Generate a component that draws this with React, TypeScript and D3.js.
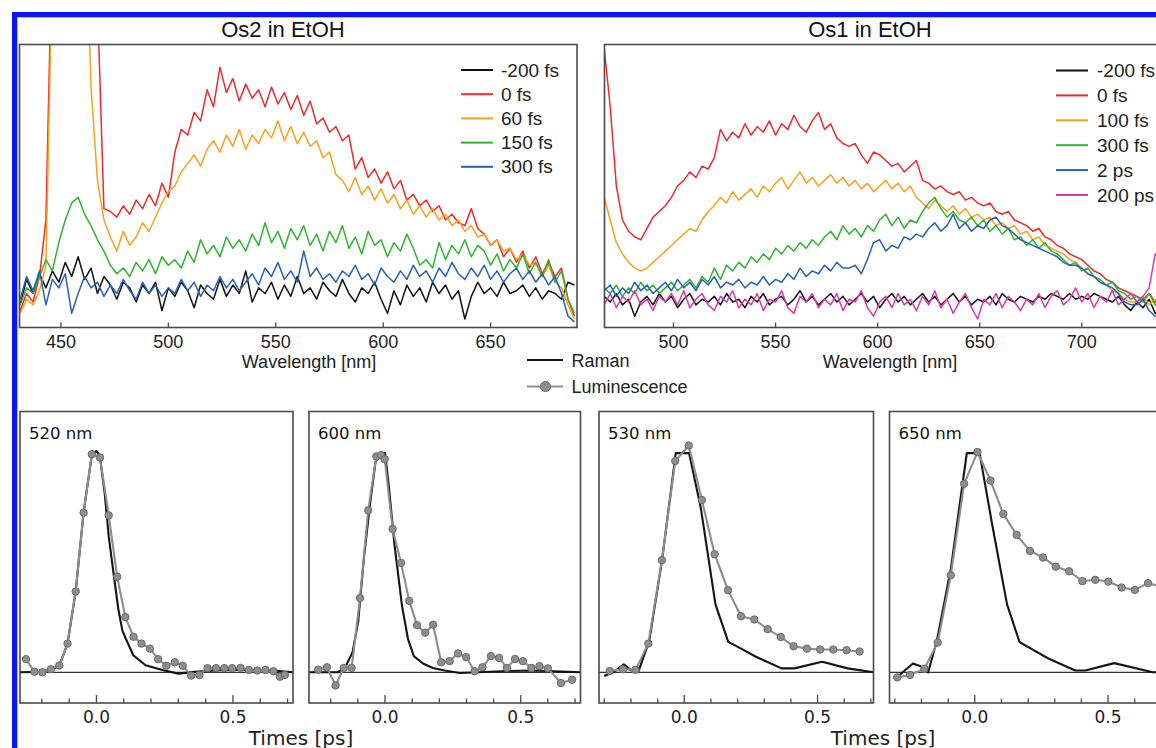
import React from "react";
import * as d3 from "d3";

// ---------- Top spectra (wavelength grid: start + 3 nm steps) ----------
const STEP = 3;
const os2Start = 431;
const os1Start = 466;

const os2Labels = ["-200 fs", "0 fs", "60 fs", "150 fs", "300 fs"];
const os2Black = [
  8, 17, 12, 19, 14, 20, 16, 23, 18, 25,
  17, 21, 12, 18, 15, 10, 16, 14, 9, 15,
  12, 16, 6, 14, 11, 16, 13, 7, 15, 12,
  10, 17, 11, 15, 12, 20, 9, 14, 12, 16,
  10, 15, 11, 18, 12, 14, 10, 16, 13, 11,
  17, 12, 9, 14, 12, 16, 10, 5, 13, 8,
  15, 11, 14, 9, 16, 12, 15, 10, 13, 3,
  11, 16, 12, 14, 11, 16, 12, 13, 15, 11,
  14, 10, 13, 12, 10, 16, 15,
];
const os2Red = [
  6, 12, 9, 18, 38, 140, 160, 160, 160, 160,
  160, 160, 115, 42, 41, 39, 43, 40, 45, 42,
  47, 43, 51, 46, 62, 70, 68, 76, 73, 84,
  78, 92, 83, 88, 80, 86, 81, 84, 78, 85,
  79, 83, 77, 82, 75, 80, 72, 74, 69, 71,
  66, 68, 56, 60, 53, 56, 51, 55, 49, 52,
  45, 47, 43, 45, 41, 43, 38, 40, 37, 36,
  42, 35, 33, 29, 31, 25, 28, 23, 27, 21,
  25, 19, 23, 18, 21, 10, 4,
];
const os2Orange = [
  5, 10, 8, 13, 22, 130, 160, 160, 160, 160,
  160, 85, 52, 38, 32, 27, 34, 29, 32, 37,
  34, 39, 44, 48, 50, 55, 58, 61, 57, 63,
  66, 62, 68, 64, 70, 63, 68, 65, 70, 67,
  73, 66, 71, 65, 69, 64, 66, 60, 62, 54,
  52, 48, 53, 47, 50, 45, 49, 44, 47, 42,
  45, 40, 43, 39, 42, 38, 40, 36, 38, 34,
  36, 32, 33, 29, 31, 27, 28, 24, 26, 22,
  23, 18, 22, 16, 14, 8, 3,
];
const os2Green = [
  8, 14, 12, 18, 24, 20, 30, 38, 44, 46,
  40, 36, 31, 27, 22, 19, 21, 18, 23, 20,
  24, 19, 25, 22, 24, 21, 27, 23, 31, 26,
  29, 25, 32, 28, 31, 27, 33, 29, 37, 30,
  34, 28, 35, 31, 36, 29, 33, 27, 34, 30,
  36, 28, 32, 26, 34, 29, 31, 25, 30, 27,
  33, 28, 22, 24, 21, 30, 24, 29, 26, 31,
  25, 29, 27, 22, 26, 20, 24, 21, 26, 19,
  23, 18, 24, 16, 20, 10, 5,
];
const os2Blue = [
  10, 18, 13, 20, 8, 17, 14, 19, 5, 12,
  18, 14, 16, 11, 15, 12, 17, 13, 10, 16,
  12, 15, 11, 14, 12, 17, 13, 16, 11, 15,
  13, 18, 14, 17, 13, 16, 19, 15, 21, 18,
  23, 17, 20, 16, 27, 18, 21, 17, 19, 16,
  20, 18, 22, 17, 19, 15, 21, 18, 16, 20,
  17, 22, 18, 20, 16, 21, 18, 23, 19, 17,
  21, 18, 22, 17, 20, 16, 19, 21, 17, 20,
  16, 19, 15, 18, 12, 4, 2,
];

const os1Labels = ["-200 fs", "0 fs", "100 fs", "300 fs", "2 ps", "200 ps"];
const os1Black = [
  11, 9, 12, 8, 10, 4, 9, 11, 8, 12,
  9, 11, 7, 10, 12, 8, 10, 9, 11, 8,
  12, 9, 10, 7, 11, 9, 12, 8, 10, 11,
  8, 10, 13, 9, 11, 8, 10, 12, 9, 11,
  8, 10, 12, 9, 11, 7, 10, 12, 9, 11,
  8, 10, 12, 9, 11, 8, 10, 12, 9, 11,
  8, 10, 9, 11, 8, 12, 10, 9, 11, 10,
  9, 11, 10, 12, 11, 10, 12, 10, 11, 10,
  12, 11, 10, 9, 11, 8, 6,
  9, 7, 10, 5, 4,
];
const os1Red = [
  99, 78, 50, 38, 34, 32, 31, 35, 39, 41,
  43, 46, 50, 52, 55, 53, 57, 56, 60, 70,
  66, 69, 67, 72, 68, 71, 69, 73, 68, 72,
  70, 75, 71, 69, 73, 76, 70, 72, 67, 65,
  64, 65, 61, 58, 62, 61, 59, 57, 58, 55,
  57, 59, 52, 51, 49, 50, 48, 47, 48, 45,
  46, 44, 43, 44, 41, 40, 41, 38, 37, 36,
  34, 35, 32, 31, 29, 28, 26, 25, 24, 22,
  20, 19, 17, 16, 14, 13, 12,
  11, 10, 12, 9, 8,
];
const os1Orange = [
  46, 38, 30, 26, 23, 21, 20, 21, 23, 25,
  27, 29, 31, 33, 35, 34, 38, 41, 43, 46,
  44, 48, 45, 47, 49, 46, 50, 48, 51, 53,
  49, 52, 55, 51, 53, 50, 52, 54, 51, 53,
  50, 52, 49, 51, 48, 50, 52, 49, 51, 48,
  50, 46, 44, 42, 45, 43, 41, 43, 40, 42,
  39, 40, 38, 39, 36, 37, 35, 36, 33, 34,
  31, 32, 29, 28, 27, 26, 24, 23, 21, 19,
  18, 16, 15, 13, 12, 10, 9,
  9, 11, 8, 10, 7,
];
const os1Green = [
  14, 12, 15, 11, 14, 12, 16, 13, 15, 12,
  14, 16, 13, 15, 17, 14, 18, 16, 21, 17,
  22, 20, 23, 21, 25, 23, 26, 24, 28, 26,
  29, 27, 30, 28, 31, 29, 32, 34, 31, 36,
  33, 35, 32, 36, 34, 38, 40, 36, 39, 35,
  38, 37, 41, 44, 46, 42, 39, 41, 38, 37,
  39, 36, 38, 34, 36, 33, 35, 31, 32, 29,
  31, 28, 30, 27, 26, 24, 22, 23, 20, 21,
  18, 17, 15, 16, 13, 12, 10,
  11, 9, 12, 8, 6,
];
const os1Blue = [
  13, 15, 11, 14, 12, 16, 13, 15, 12, 14,
  16, 13, 17, 14, 16, 13, 17, 15, 18, 14,
  16, 15, 17, 14, 16, 15, 18, 15, 17, 16,
  19, 17, 21, 18, 20, 19, 22, 20, 23, 21,
  21, 22, 19, 24, 30, 31, 27, 29, 28, 32,
  31, 33, 32, 35, 37, 34, 36, 40, 35, 37,
  34, 36, 35, 38, 39, 36, 35, 33, 31, 30,
  29, 28, 27, 26, 25, 23, 22, 22, 21, 19,
  18, 16, 15, 14, 12, 9, 8,
  8, 10, 6, 4, 3,
];
const os1Magenta = [
  8, 12, 7, 11, 9, 13, 8, 10, 6, 11,
  9, 12, 8, 13, 7, 10, 12, 8, 6, 11,
  9, 13, 7, 10, 8, 12, 6, 10, 9, 13,
  7, 5, 11, 9, 12, 7, 10, 8, 12, 6,
  10, 9, 13, 7, 4, 9, 11, 7, 12, 8,
  10, 6, 11, 8, 13, 7, 10, 5, 9, 12,
  7, 3, 10, 8, 12, 7, 11, 9, 6, 10,
  8, 12, 7, 11, 13, 8, 10, 14, 9, 12,
  7, 11, 9, 13, 8, 10, 12,
  9, 11, 14, 26, 24,
];

const os2Ticks = [450, 500, 550, 600, 650];
const os1Ticks = [500, 550, 600, 650, 700];

// ---------- Bottom kinetics ----------
const panelLabels = ["520 nm", "600 nm", "530 nm", "650 nm"];

const lum520T = [-0.258, -0.227, -0.198, -0.167, -0.136, -0.106, -0.076, -0.047, -0.017, 0.013, 0.045, 0.076, 0.106, 0.136, 0.165, 0.196, 0.226, 0.256, 0.287, 0.316, 0.347, 0.377, 0.407, 0.438, 0.468, 0.497, 0.528, 0.558, 0.589, 0.619, 0.648, 0.672, 0.69];
const lum520V = [0.06, 0.003, 0.0, 0.014, 0.031, 0.131, 0.369, 0.728, 0.995, 0.98, 0.716, 0.436, 0.252, 0.162, 0.131, 0.108, 0.06, 0.03, 0.046, 0.03, -0.015, -0.012, 0.019, 0.019, 0.019, 0.019, 0.02, 0.011, 0.008, 0.011, 0.005, -0.02, -0.012];
const ram520T = [-0.28, -0.2, -0.15, -0.13, -0.106, -0.076, -0.047, -0.017, 0.0, 0.012, 0.03, 0.045, 0.066, 0.08, 0.095, 0.11, 0.135, 0.18, 0.245, 0.3, 0.36, 0.45, 0.55, 0.65, 0.72];
const ram520V = [0.0, 0.002, 0.02, 0.05, 0.13, 0.37, 0.73, 0.99, 1.01, 0.99, 0.82, 0.62, 0.42, 0.29, 0.19, 0.147, 0.078, 0.032, 0.009, -0.006, 0.002, 0.01, 0.012, 0.008, 0.0];

const lum600T = [-0.246, -0.214, -0.182, -0.152, -0.123, -0.092, -0.062, -0.032, -0.015, -0.001, 0.028, 0.059, 0.089, 0.118, 0.148, 0.177, 0.207, 0.238, 0.269, 0.299, 0.33, 0.359, 0.39, 0.42, 0.449, 0.479, 0.508, 0.539, 0.569, 0.6, 0.648, 0.689];
const lum600V = [0.012, 0.023, -0.06, 0.02, 0.02, 0.339, 0.739, 0.985, 0.991, 0.972, 0.654, 0.499, 0.326, 0.215, 0.181, 0.217, 0.046, 0.051, 0.086, 0.069, 0.005, 0.023, 0.074, 0.066, 0.02, 0.061, 0.051, 0.02, 0.028, 0.018, -0.049, -0.034];
const ram600T = [-0.28, -0.176, -0.148, -0.12, -0.099, -0.077, -0.056, -0.035, -0.014, 0.0, 0.014, 0.035, 0.063, 0.085, 0.106, 0.14, 0.176, 0.22, 0.275, 0.345, 0.45, 0.55, 0.65, 0.72];
const ram600V = [0.0, 0.0, 0.02, 0.09, 0.23, 0.53, 0.76, 0.96, 1.0, 1.0, 0.85, 0.58, 0.3, 0.15, 0.074, 0.04, 0.02, 0.008, -0.003, 0.0, 0.006, 0.008, 0.003, 0.0];

const lum530T = [-0.28, -0.23, -0.183, -0.135, -0.084, -0.034, 0.017, 0.066, 0.114, 0.164, 0.213, 0.263, 0.313, 0.362, 0.41, 0.46, 0.51, 0.559, 0.609, 0.658];
const lum530V = [0.006, 0.014, 0.011, 0.131, 0.512, 0.964, 1.035, 0.786, 0.539, 0.375, 0.256, 0.241, 0.197, 0.161, 0.119, 0.108, 0.104, 0.104, 0.101, 0.095];
const ram530T = [-0.3, -0.26, -0.227, -0.2, -0.172, -0.131, -0.083, -0.032, 0.018, 0.062, 0.117, 0.165, 0.213, 0.269, 0.365, 0.413, 0.517, 0.613, 0.71];
const ram530V = [-0.017, 0.005, 0.036, 0.01, 0.003, 0.146, 0.515, 1.0, 1.0, 0.75, 0.31, 0.139, 0.108, 0.071, 0.018, 0.018, 0.048, 0.018, 0.0];

const lum650T = [-0.291, -0.243, -0.189, -0.139, -0.09, -0.04, 0.01, 0.059, 0.107, 0.157, 0.207, 0.256, 0.304, 0.354, 0.404, 0.452, 0.501, 0.551, 0.601, 0.65, 0.7];
const lum650V = [-0.023, -0.012, 0.016, 0.136, 0.443, 0.86, 1.005, 0.875, 0.723, 0.627, 0.554, 0.524, 0.482, 0.461, 0.416, 0.422, 0.414, 0.387, 0.376, 0.407, 0.39];
const ram650T = [-0.29, -0.232, -0.186, -0.175, -0.142, -0.09, -0.03, 0.018, 0.066, 0.121, 0.168, 0.276, 0.377, 0.415, 0.523, 0.668, 0.72];
const ram650V = [-0.02, 0.04, 0.02, 0.0, 0.145, 0.47, 1.0, 1.0, 0.67, 0.31, 0.138, 0.063, 0.008, 0.008, 0.042, 0.0, 0.0];

const timeMinorTicks = [-0.3, -0.2, -0.1, 0, 0.1, 0.2, 0.3, 0.4, 0.5, 0.6, 0.7];
const timeMajorTicks = [0, 0.5];

// ---------- styles ----------
const SANS = "'Liberation Sans', Arial, sans-serif";
const VERD = "'DejaVu Sans', Verdana, sans-serif";
const C = {
  black: "#111111",
  red: "#ee2a2e",
  orange: "#f6a21a",
  green: "#2db52f",
  blue: "#2761b6",
  magenta: "#d63bae",
};
const os2Colors = [C.black, C.red, C.orange, C.green, C.blue];
const os1Colors = [C.black, C.red, C.orange, C.green, C.blue, C.magenta];
const FRAME = "#4a4a4a";

type SpecProps = {
  id: string;
  x0: number; x1: number; y0: number; y1: number;
  domain: [number, number];
  start: number;
  series: number[][];
  colors: string[];
  labels: string[];
  ticks: number[];
  title: string; titleX: number;
  axisX: number;
  legLineX: number; legTextX: number; legY: number; legStep: number;
};

function Spectrum(p: SpecProps) {
  const x = d3.scaleLinear().domain(p.domain).range([p.x0, p.x1]);
  const y = d3.scaleLinear().domain([0, 100]).range([p.y1, p.y0]);
  const line = d3
    .line<number>()
    .x((_, i) => x(p.start + i * STEP))
    .y((d) => y(d));
  return (
    <g>
      <defs>
        <clipPath id={p.id}>
          <rect x={p.x0} y={p.y0} width={p.x1 - p.x0} height={p.y1 - p.y0} />
        </clipPath>
      </defs>
      <g clipPath={`url(#${p.id})`}>
        {p.series.map((s, k) => (
          <path key={k} d={line(s) || ""} fill="none" stroke={p.colors[k]} strokeWidth={1.5} strokeLinejoin="round" />
        ))}
      </g>
      <rect x={p.x0} y={p.y0} width={p.x1 - p.x0} height={p.y1 - p.y0} fill="none" stroke={FRAME} strokeWidth={1.6} />
      {p.ticks.map((t) => (
        <g key={t}>
          <line x1={x(t)} x2={x(t)} y1={p.y1} y2={p.y1 - 5} stroke={FRAME} strokeWidth={1.3} />
          <text x={x(t)} y={347.5} textAnchor="middle" fontFamily={SANS} fontSize={18} fill="#222">{t}</text>
        </g>
      ))}
      <text x={p.axisX} y={367.5} textAnchor="middle" fontFamily={SANS} fontSize={18} fill="#222">Wavelength [nm]</text>
      <text x={p.titleX} y={37} textAnchor="middle" fontFamily={SANS} fontSize={22} fill="#111">{p.title}</text>
      {p.labels.map((l, k) => (
        <g key={l}>
          <line x1={p.legLineX} x2={p.legLineX + 32} y1={p.legY + k * p.legStep} y2={p.legY + k * p.legStep} stroke={p.colors[k]} strokeWidth={2} />
          <text x={p.legTextX} y={p.legY + k * p.legStep + 6.5} fontFamily={SANS} fontSize={19} fill="#222">{l}</text>
        </g>
      ))}
    </g>
  );
}

type KinProps = {
  x0: number; x1: number;
  domain: [number, number];
  label: string;
  lumT: number[]; lumV: number[];
  ramT: number[]; ramV: number[];
};

const KY0 = 411.5;
const KY1 = 703;

function Kinetics(p: KinProps) {
  const x = d3.scaleLinear().domain(p.domain).range([p.x0, p.x1]);
  const y = d3.scaleLinear().domain([-0.14, 1.19]).range([KY1, KY0]);
  const lumPts = p.lumT.map((t, i) => [t, p.lumV[i]] as [number, number]);
  const ramPts = p.ramT.map((t, i) => [t, p.ramV[i]] as [number, number]);
  const line = d3
    .line<[number, number]>()
    .x((d) => x(d[0]))
    .y((d) => y(d[1]));
  return (
    <g>
      <line x1={p.x0} x2={p.x1} y1={y(0)} y2={y(0)} stroke="#333" strokeWidth={1.3} />
      <path d={line(ramPts) || ""} fill="none" stroke="#141414" strokeWidth={2.1} strokeLinejoin="round" />
      <path d={line(lumPts) || ""} fill="none" stroke="#8d8d8d" strokeWidth={2.1} strokeLinejoin="round" />
      {lumPts.map((d, i) => (
        <circle key={i} cx={x(d[0])} cy={y(d[1])} r={3.7} fill="#8e8e8e" stroke="#6b6b6b" strokeWidth={1} />
      ))}
      <rect x={p.x0} y={KY0} width={p.x1 - p.x0} height={KY1 - KY0} fill="none" stroke={FRAME} strokeWidth={1.6} />
      {timeMinorTicks
        .filter((t) => t > p.domain[0] && t < p.domain[1])
        .map((t) => (
          <line key={t} x1={x(t)} x2={x(t)} y1={KY1} y2={KY1 - (timeMajorTicks.includes(t) ? 8 : 4.5)} stroke={FRAME} strokeWidth={1.3} />
        ))}
      {timeMajorTicks.map((t) => (
        <text key={t} x={x(t)} y={723} textAnchor="middle" fontFamily={VERD} fontSize={17} fill="#222">{t.toFixed(1)}</text>
      ))}
      <text x={p.x0 + 9} y={439} fontFamily={VERD} fontSize={16.5} fill="#111">{p.label}</text>
    </g>
  );
}

export default function App() {
  return (
    <svg width={1156} height={748} viewBox="0 0 1156 748" style={{ position: "absolute", left: 0, top: 0, background: "#ffffff" }}>
      <rect x={0} y={0} width={1156} height={748} fill="#ffffff" />
      {/* blue border */}
      <rect x={12} y={12} width={1144} height={5.3} fill="#0a14f5" />
      <rect x={12} y={12} width={5.3} height={736} fill="#0a14f5" />

      <Spectrum
        id="clipOs2"
        x0={19.5} x1={577} y0={44.5} y1={327.5}
        domain={[430.7, 690.2]}
        start={os2Start}
        series={[os2Black, os2Red, os2Orange, os2Green, os2Blue]}
        colors={os2Colors}
        labels={os2Labels}
        ticks={os2Ticks}
        title="Os2 in EtOH" titleX={283}
        axisX={309}
        legLineX={461} legTextX={501} legY={70} legStep={24.2}
      />
      <Spectrum
        id="clipOs1"
        x0={604.5} x1={1163} y0={44.5} y1={327.5}
        domain={[466.2, 739.8]}
        start={os1Start}
        series={[os1Black, os1Red, os1Orange, os1Green, os1Blue, os1Magenta]}
        colors={os1Colors}
        labels={os1Labels}
        ticks={os1Ticks}
        title="Os1 in EtOH" titleX={870}
        axisX={890}
        legLineX={1056} legTextX={1097} legY={70.5} legStep={24.9}
      />

      {/* shared legend */}
      <line x1={527} x2={563} y1={360} y2={360} stroke="#141414" strokeWidth={2} />
      <text x={571.5} y={366.5} fontFamily={SANS} fontSize={18} fill="#222">Raman</text>
      <line x1={527} x2={563} y1={386.5} y2={386.5} stroke="#8d8d8d" strokeWidth={2} />
      <circle cx={545.5} cy={386.5} r={5} fill="#8e8e8e" stroke="#6b6b6b" strokeWidth={1} />
      <text x={571.5} y={393} fontFamily={SANS} fontSize={18} fill="#222">Luminescence</text>

      <Kinetics x0={20} x1={293} domain={[-0.28, 0.72]} label={panelLabels[0]} lumT={lum520T} lumV={lum520V} ramT={ram520T} ramV={ram520V} />
      <Kinetics x0={309} x1={580.5} domain={[-0.28, 0.72]} label={panelLabels[1]} lumT={lum600T} lumV={lum600V} ramT={ram600T} ramV={ram600V} />
      <Kinetics x0={599} x1={873.5} domain={[-0.32, 0.71]} label={panelLabels[2]} lumT={lum530T} lumV={lum530V} ramT={ram530T} ramV={ram530V} />
      <Kinetics x0={889.5} x1={1164} domain={[-0.32, 0.71]} label={panelLabels[3]} lumT={lum650T} lumV={lum650V} ramT={ram650T} ramV={ram650V} />

      <text x={301} y={745} textAnchor="middle" fontFamily={VERD} fontSize={20} fill="#222">Times [ps]</text>
      <text x={883} y={745} textAnchor="middle" fontFamily={VERD} fontSize={20} fill="#222">Times [ps]</text>
    </svg>
  );
}
